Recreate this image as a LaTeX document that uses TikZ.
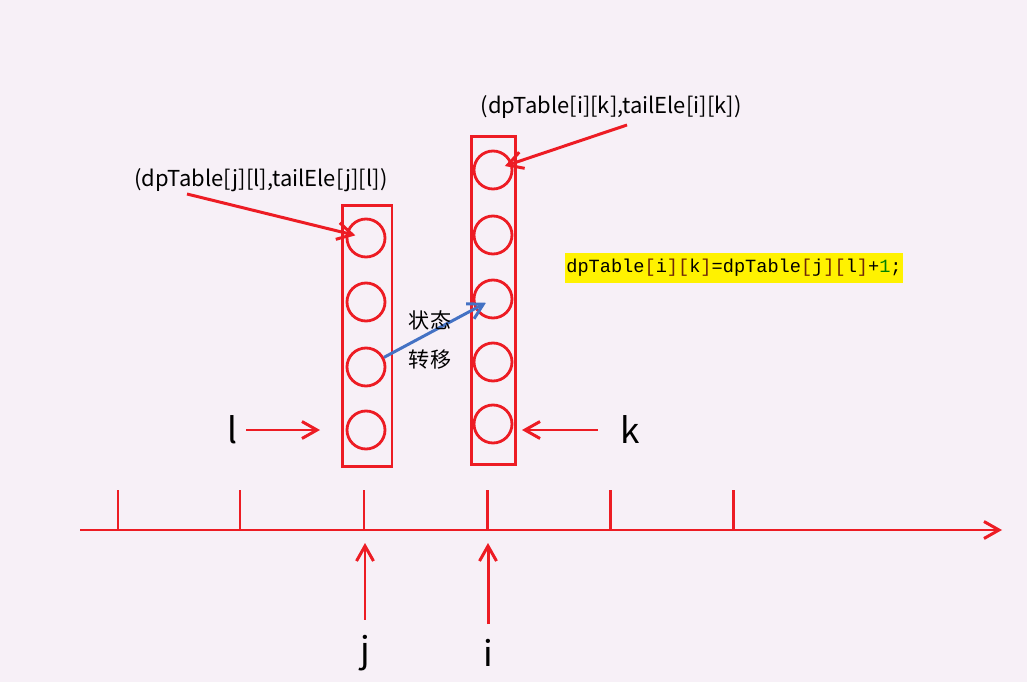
\documentclass[tikz,border=0pt]{standalone}
\usepackage{fontspec}
\setmainfont{Noto Sans CJK SC}
\setmonofont{Liberation Mono}
\usetikzlibrary{arrows.meta}

\definecolor{penred}{RGB}{237,28,36}
\definecolor{penblue}{RGB}{68,114,196}
\definecolor{paper}{RGB}{247,240,247}
\definecolor{brkbrown}{RGB}{110,40,10}
\definecolor{numgreen}{RGB}{0,128,0}

\begin{document}
\begin{tikzpicture}[x=0.02cm,y=-0.02cm,
    pen/.style={penred,line width=1.7pt},
    arr/.style={pen,-{Straight Barb[length=3mm,width=3.4mm]}},
    flow/.style={penblue,line width=1.7pt,-{Straight Barb[length=3mm,width=3.4mm]}},
    cell/.style={circle,draw=penred,line width=1.6pt,minimum size=0.76cm,inner sep=0pt},
    column/.style={rectangle,draw=penred,line width=1.7pt,inner sep=0pt},
    bigidx/.style={inner sep=0pt,font=\fontsize{20}{24}\selectfont},
    tuple/.style={font=\fontsize{12.5}{15}\selectfont},
    note/.style={font=\fontsize{12}{14}\selectfont}]

\fill[paper] (0,0) rectangle (1027,682);
\useasboundingbox (0,0) rectangle (1027,682);

% number line
\coordinate (ax0) at (80,530);
\coordinate (ax1) at (1002,530);
\draw[arr] (ax0) -- (ax1);
\foreach \x in {118,240,364,487,610,733}
  \draw[pen] (\x,530) -- (\x,490);

% the two columns
\node[column,minimum width=1cm,minimum height=5.24cm] (colj) at (367,336) {};
\node[column,minimum width=0.88cm,minimum height=6.58cm] (coli) at (493.5,300.5) {};

\foreach \n/\y in {1/238,2/302,3/367,4/430}
  \node[cell] (j\n) at (366,\y) {};
\foreach \n/\y in {1/170,2/235,3/299,4/362,5/424}
  \node[cell] (i\n) at (493,\y) {};

% state labels
\node[tuple] (tj) at (261,180) {(dpTable[j][l],tailEle[j][l])};
\node[tuple] (ti) at (611,107) {(dpTable[i][k],tailEle[i][k])};
\coordinate (tjfoot) at (187,194);
\coordinate (tifoot) at (627,125);
\draw[arr,shorten >=0.22cm] (tjfoot) -- (j1.center);
\draw[arr,shorten >=0.25cm] (tifoot) -- (i1.center);

% transition
\draw[flow,shorten >=0.16cm] (j3) -- (i3.center);
\node[note] (st1) at (430,320) {状态};
\node[note] (st2) at (430,360) {转移};

\node[fill=yellow,inner xsep=1pt,minimum height=0.5cm,
      font=\ttfamily\fontsize{10.6}{12}\selectfont] (rule) at (734,268)
  {dpTable\textcolor{brkbrown}{[}i\textcolor{brkbrown}{][}k\textcolor{brkbrown}{]}=dpTable\textcolor{brkbrown}{[}j\textcolor{brkbrown}{][}l\textcolor{brkbrown}{]}+\textcolor{numgreen}{1};};

% indices
\node[bigidx] (lbl) at (232,430) {l};
\node[bigidx] (lbk) at (630,430) {k};
\node[bigidx] (lbj) at (365,653) {j};
\node[bigidx] (lbi) at (488,653) {i};
\coordinate (lto) at (320,430);
\coordinate (kto) at (522,430);
\coordinate (jto) at (365,543);
\coordinate (ito) at (488,543);
\draw[arr,shorten <=0.18cm] (lbl) -- (lto);
\draw[arr,shorten <=0.44cm] (lbk) -- (kto);
\draw[arr,shorten <=0.3cm] (lbj) -- (jto);
\draw[arr,shorten <=0.3cm] (lbi) -- (ito);

\end{tikzpicture}
\end{document}
